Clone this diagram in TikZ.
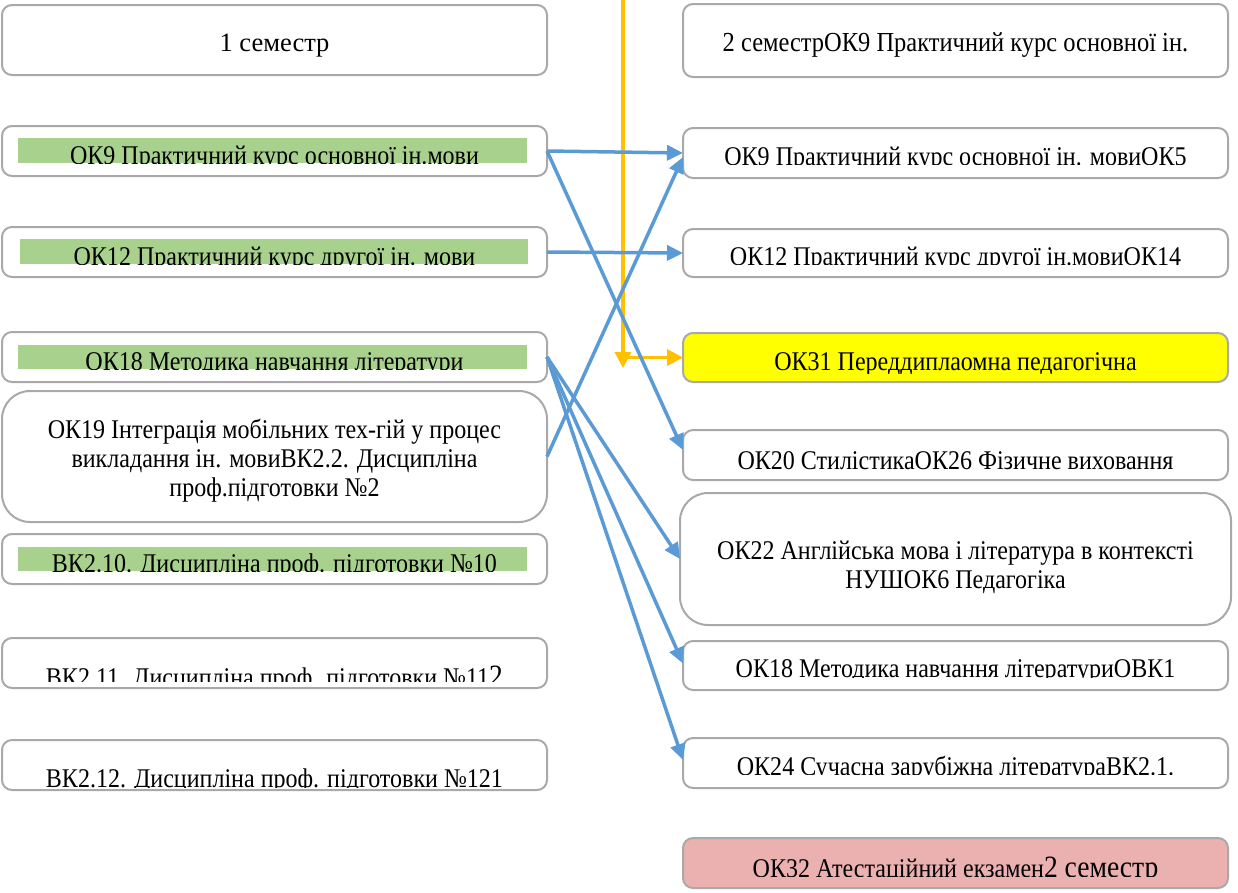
\documentclass[tikz,border=0pt]{standalone}
\usepackage{fontspec}
\setmainfont{Liberation Serif}
\newfontfamily\condfont[FakeStretch=0.89]{Liberation Serif}
\usetikzlibrary{arrows.meta,calc}
\definecolor{boxgray}{HTML}{A9A9A9}
\definecolor{arrblue}{HTML}{5B9BD5}
\definecolor{arryellow}{HTML}{FFC000}
\definecolor{bargreen}{HTML}{A9D18E}
\definecolor{hlyellow}{HTML}{FFFF00}
\definecolor{hlpink}{HTML}{EBB1B0}
\tikzset{
 box/.style={draw=boxgray, line width=2pt, rounded corners=10pt, fill=white, inner sep=0pt, outer sep=0pt},
 bigbox/.style={box, rounded corners=28pt},
 greenbar/.style={fill=bargreen, draw=none, inner sep=0pt, outer sep=0pt},
 txt/.style={inner sep=0pt, outer sep=0pt, anchor=base, font=\condfont\fontsize{27}{33}\selectfont},
 link/.style={draw=arrblue, line width=3.5pt, -{Triangle[length=16pt,width=15pt]}},
 ylink/.style={draw=arryellow, line width=3.5pt, -{Triangle[length=16pt,width=16pt]}},
}
\newcommand{\bigfs}{\fontsize{31}{36}\selectfont}
\begin{document}
\begin{tikzpicture}[x=1pt,y=-1pt]
\useasboundingbox (0,0) rectangle (1238,892);
% ---------- left column ----------
\node[box, minimum width=545pt, minimum height=70pt] (A0) at (274.5,40) {};
\node[txt, font=\fontsize{26.5}{30}\selectfont] (tA0) at (274.5,51) {1 семестр};

\node[box, minimum width=545pt, minimum height=50pt] (A1) at (274.5,151) {};
\node[greenbar, minimum width=509pt, minimum height=25pt] (gA1) at (272.5,150.5) {};
\begin{scope}\clip (10,130) rectangle (540,163);
\node[txt] (tA1) at (274.5,164) {ОК9 Практичний курс основної ін.мови};
\end{scope}

\node[box, minimum width=545pt, minimum height=50pt] (A2) at (274.5,252) {};
\node[greenbar, minimum width=508pt, minimum height=25pt] (gA2) at (274,251.5) {};
\begin{scope}\clip (10,230) rectangle (540,264);
\node[txt] (tA2) at (274.5,265) {ОК12 Практичний курс другої ін. мови};
\end{scope}

\node[box, minimum width=545pt, minimum height=50pt] (A3) at (274.5,357) {};
\node[greenbar, minimum width=509pt, minimum height=24pt] (gA3) at (272.5,357) {};
\begin{scope}\clip (10,335) rectangle (540,369);
\node[txt] (tA3) at (274.5,370) {ОК18 Методика навчання літератури};
\end{scope}

\node[bigbox, minimum width=545pt, minimum height=131pt] (A4) at (274.5,456.5) {};
\node[txt] (tA4a) at (274.5,438) {ОК19 Інтеграція мобільних тех-гій у процес};
\node[txt] (tA4b) at (274.5,467) {викладання ін. мовиВК2.2. Дисципліна};
\node[txt] (tA4c) at (274.5,496) {проф.підготовки №2};

\node[box, minimum width=545pt, minimum height=50pt] (A5) at (274.5,559) {};
\node[greenbar, minimum width=509pt, minimum height=24pt] (gA5) at (272.5,559) {};
\begin{scope}\clip (10,540) rectangle (540,571);
\node[txt] (tA5) at (274.5,572) {ВК2.10. Дисципліна проф. підготовки №10};
\end{scope}

\node[box, minimum width=545pt, minimum height=50pt] (A6) at (274.5,663) {};
\begin{scope}\clip (10,640) rectangle (540,681);
\node[txt] (tA6) at (274.5,686) {ВК2.11. Дисципліна проф. підготовки №11{\bigfs 2}};
\end{scope}

\node[box, minimum width=545pt, minimum height=50pt] (A7) at (274.5,765) {};
\begin{scope}\clip (10,742) rectangle (540,787);
\node[txt] (tA7) at (274.5,787) {ВК2.12. Дисципліна проф. підготовки №121};
\end{scope}

% ---------- right column ----------
\node[box, minimum width=545pt, minimum height=73pt] (B0) at (955.5,40.5) {};
\node[txt, font=\condfont\fontsize{27.5}{33}\selectfont] (tB0) at (955.5,51) {2 семестрОК9 Практичний курс основної ін.};

\node[box, minimum width=545pt, minimum height=50pt] (B1) at (955.5,153) {};
\begin{scope}\clip (690,130) rectangle (1220,164);
\node[txt] (tB1) at (955.5,165) {ОК9 Практичний курс основної ін. мовиОК5};
\end{scope}

\node[box, minimum width=545pt, minimum height=48pt] (B2) at (955.5,253) {};
\begin{scope}\clip (690,231) rectangle (1220,264);
\node[txt] (tB2) at (955.5,265) {ОК12 Практичний курс другої ін.мовиОК14};
\end{scope}

\node[box, fill=hlyellow, minimum width=545pt, minimum height=49pt] (B3) at (955.5,357.5) {};
\begin{scope}\clip (690,335) rectangle (1220,373);
\node[txt] (tB3) at (955.5,370) {ОК31 Переддиплаомна педагогічна};
\end{scope}

\node[box, minimum width=545pt, minimum height=50pt] (B4) at (955.5,455) {};
\begin{scope}\clip (690,432) rectangle (1220,474);
\node[txt] (tB4) at (955.5,469) {ОК20 СтилістикаОК26 Фізичне виховання};
\end{scope}

\node[bigbox, minimum width=551pt, minimum height=132pt] (B5) at (955.5,559) {};
\node[txt] (tB5a) at (955.5,559) {ОК22 Англійська мова і література в контексті};
\node[txt] (tB5b) at (955.5,588) {НУШОК6 Педагогіка};

\node[box, minimum width=545pt, minimum height=49pt] (B6) at (955.5,665.5) {};
\begin{scope}\clip (690,643) rectangle (1220,677);
\node[txt] (tB6) at (955.5,677) {ОК18 Методика навчання літературиОВК1};
\end{scope}

\node[box, minimum width=545pt, minimum height=50pt] (B7) at (955.5,763) {};
\begin{scope}\clip (690,740) rectangle (1220,774);
\node[txt] (tB7) at (955.5,775) {ОК24 Сучасна зарубіжна літератураВК2.1.};
\end{scope}

\node[box, fill=hlpink, minimum width=545pt, minimum height=50pt] (B8) at (955.5,863) {};
\begin{scope}\clip (690,840) rectangle (1220,876);
\node[txt] (tB8) at (955.5,877) {ОК32 Атестаційний екзамен{\bigfs 2 семестр}};
\end{scope}

% ---------- connectors ----------
\coordinate (ytop) at (623,-2);
\coordinate (ybot) at (623,368);
\draw[ylink] (ytop) -- (ybot);
\draw[ylink] (ytop |- B3.west) -- (B3.west);

\draw[link] (A1.east) -- (B1.west);
\draw[link] (A1.east) -- ([yshift=5pt]B4.west);
\draw[link] (A2.east) -- (B2.west);
\draw[link] (A4.east) -- ([yshift=-4pt]B1.west);
\draw[link] (A3.east) -- (B5.west);
\draw[link] (A3.east) -- ([yshift=2pt]B6.west);
\draw[link] (A3.east) -- ([yshift=3pt]B7.west);
\end{tikzpicture}
\end{document}
